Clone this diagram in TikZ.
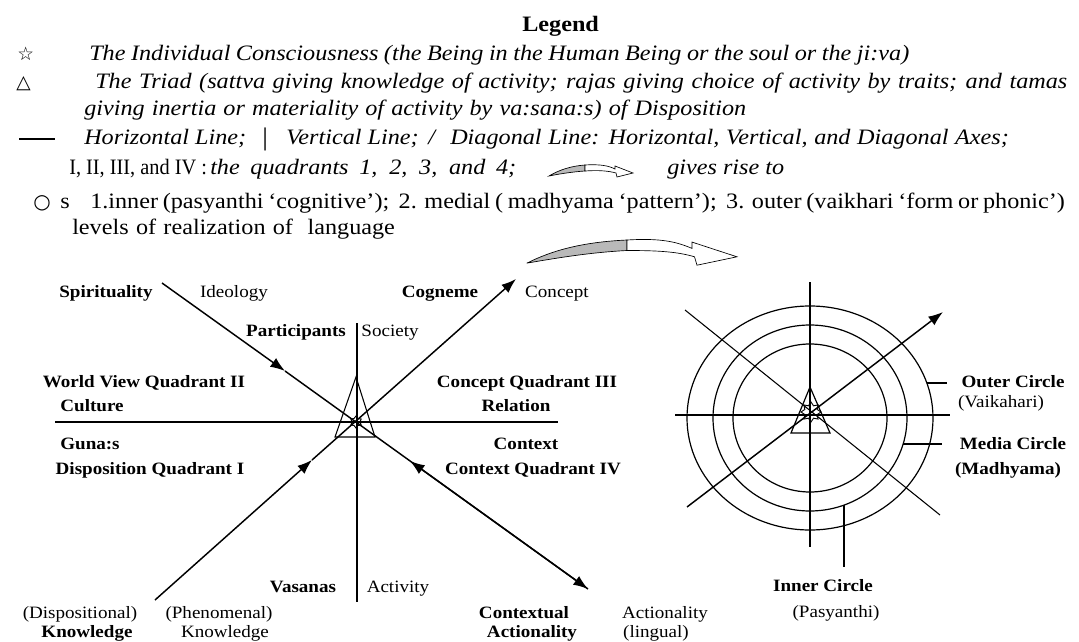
\documentclass[tikz,border=0pt]{standalone}
\usepackage{fontspec}
\usepackage{graphicx}
\setmainfont{Liberation Serif}[FakeStretch=1.1]
\newfontfamily\symfont{DejaVu Sans}
\usetikzlibrary{arrows.meta,shapes.geometric}
\newcommand{\legfont}{\fontsize{16.5pt}{19pt}\selectfont}
\newcommand{\legifont}{\fontsize{16.5pt}{19pt}\selectfont}
\newcommand{\labfont}{\fontsize{13pt}{15pt}\selectfont}
\begin{document}
\begin{tikzpicture}[x=0.75pt,y=-0.75pt,
 leg/.style={anchor=base west,inner sep=0pt,font=\legfont},
 legi/.style={anchor=base west,inner sep=0pt,font=\legifont\itshape},
 legb/.style={anchor=base west,inner sep=0pt,font=\legfont\bfseries},
 sym/.style={anchor=base west,inner sep=0pt,font=\symfont\fontsize{14pt}{16pt}\selectfont},
 lab/.style={anchor=base,inner sep=0pt,font=\labfont},
 labb/.style={anchor=base,inner sep=0pt,font=\labfont\bfseries},
 axis/.style={line width=0.8pt},
 ln/.style={line width=1.1pt},
 tip/.style={-{Latex[length=11pt,width=8pt]}},
 ring/.style={line width=0.9pt},
 starbox/.style={draw,star,inner sep=0pt,line width=0.7pt},
 ribbon/.style={line width=0.5pt}
]
\fill[white] (0,0) rectangle (1079,642);
\useasboundingbox (0,0) rectangle (1079,642);

% ---------------- Legend ----------------
\node[legb] (title) at (522,32) {Legend};
\node[sym] (s1) at (17,61) {☆};
\node[legi] (t1) at (89,61) {\makebox[615pt][s]{The Individual Consciousness (the Being in the Human Being or the soul or the ji:va)}};
\node[sym] (s2) at (16,89) {△};
\node[legi] (t2) at (95,89) {\makebox[729pt][s]{The Triad (sattva giving knowledge of activity; rajas giving choice of activity by traits; and tamas}};
\node[legi] (t3) at (84,116) {\makebox[496.5pt][s]{giving inertia or materiality of activity by va:sana:s) of Disposition}};
\coordinate (h1) at (19,139);
\coordinate (h2) at (55,139);
\draw[line width=0.8pt] (h1) -- (h2);
\node[legi] (t4a) at (84,145) {Horizontal Line;};
\node[leg,font=\fontsize{19pt}{21pt}\selectfont] (t4b) at (262,146) {|};
\node[legi] (t4c) at (286,145) {Vertical Line;};
\node[legi] (t4d) at (428,145) {/};
\node[legi] (t4e) at (450,145) {\makebox[419pt][s]{Diagonal Line: Horizontal, Vertical, and Diagonal Axes;}};
\node[leg] (t5a) at (69,174) {\scalebox{0.84}[1]{I, II, III, and IV :}};
\node[legi] (t5b) at (210,174) {\makebox[229.5pt][s]{the quadrants 1, 2, 3, and 4;}};
\begin{scope}[shift={(549,165)}]
 \filldraw[ribbon,fill=gray!55] (0,11) .. controls (10,5) and (22,1) .. (36,0) -- (36,6) .. controls (22,7) and (10,9) .. cycle;
 \filldraw[ribbon,fill=white] (36,0) .. controls (52,-1) and (60,1) .. (66,4) -- (66,1) -- (84,8) -- (68,12) -- (67,8) .. controls (60,6) and (50,5) .. (36,6) -- cycle;
\end{scope}
\node[legi] (t5c) at (667,174) {gives rise to};
\node[sym,font=\symfont\fontsize{15pt}{17pt}\selectfont] (s3) at (33,209) {○};
\node[leg] (t6a) at (60,209) {s};
\node[leg] (t6b) at (90,209) {\makebox[731pt][s]{1.inner (pasyanthi ‘cognitive’);\ \ 2. medial ( madhyama ‘pattern’);\ \ 3. outer (vaikhari ‘form or phonic’)}};
\node[leg] (t7) at (72,234) {\makebox[242pt][s]{levels of realization of\ \ language}};

% ---------------- gives rise to (diagram) ----------------
\begin{scope}[shift={(527,240)},xscale=2.5,yscale=2.1]
 \filldraw[ribbon,fill=gray!55] (0,11) .. controls (10,5) and (22,1) .. (40,0) -- (40,5) .. controls (24,6) and (10,9) .. cycle;
 \filldraw[ribbon,fill=white] (40,0) .. controls (54,-1) and (60,1) .. (66,4) -- (66,1) -- (84,8) -- (68,12) -- (67,8) .. controls (60,5.5) and (52,5) .. (40,5) -- cycle;
\end{scope}

% ---------------- Left diagram ----------------
\coordinate (cL) at (356,422);
\coordinate (hL1) at (55,422);
\coordinate (hL2) at (558,422);
\coordinate (vL1) at (357,323);
\coordinate (vL2) at (357,602);
\draw[axis] (hL1) -- (hL2);
\draw[axis] (vL1) -- (vL2);

\coordinate (tL1) at (356,377);
\coordinate (tL2) at (335,437);
\coordinate (tL3) at (375,437);
\draw[line width=0.8pt] (tL1) -- (tL2) -- (tL3) -- cycle;
\node[starbox,star points=6,minimum size=9pt] (starL) at (cL) {};

\coordinate (sA) at (162,283);
\coordinate (mA1) at (285,371);
\coordinate (mA2) at (410,461);
\coordinate (eA) at (588,589);
\draw[ln,tip] (sA) -- (mA1);
\draw[ln,tip] (mA1) -- (eA);
\draw[ln,tip] (eA) -- (mA2);

\coordinate (sB) at (155,600);
\coordinate (mB) at (312,460);
\coordinate (eB) at (516,279);
\draw[ln,tip] (sB) -- (mB);
\draw[ln,tip] (mB) -- (eB);

\node[labb] (spi) at (106,297) {Spirituality};
\node[lab] (ideo) at (234,297) {Ideology};
\node[labb] (cog) at (440,297) {Cogneme};
\node[lab] (conc) at (557,297) {Concept};
\node[labb] (part) at (296,336) {Participants};
\node[lab] (soc) at (390,336) {Society};
\node[labb] (wv) at (144,387) {World View Quadrant II};
\node[labb] (cul) at (92,411) {Culture};
\node[labb] (cq) at (527,387) {Concept Quadrant III};
\node[labb] (rel) at (516,411) {Relation};
\node[labb] (gun) at (90,449) {Guna:s};
\node[labb] (dq) at (150,474) {Disposition Quadrant I};
\node[labb] (ctx) at (526,449) {Context};
\node[labb] (cxq) at (533,474) {Context Quadrant IV};
\node[labb] (vas) at (303,592) {Vasanas};
\node[lab] (act) at (398,592) {Activity};
\node[lab] (disp) at (80,618) {(Dispositional)};
\node[labb] (kn1) at (87,637) {Knowledge};
\node[lab] (phen) at (219,618) {(Phenomenal)};
\node[lab] (kn2) at (225,637) {Knowledge};
\node[labb] (ctl) at (524,618) {Contextual};
\node[labb] (acn1) at (532,637) {Actionality};
\node[lab] (acn2) at (665,618) {Actionality};
\node[lab] (ling) at (656,637) {(lingual)};

% ---------------- Right diagram ----------------
\coordinate (cR) at (810,418);
\draw[ring] (cR) ellipse [x radius=123, y radius=112];
\draw[ring] (cR) ellipse [x radius=97, y radius=93];
\draw[ring] (cR) ellipse [x radius=77, y radius=74];
\coordinate (vR1) at (810,282);
\coordinate (vR2) at (810,547);
\coordinate (hR1) at (675,415);
\coordinate (hR2) at (950,415);
\coordinate (dR1) at (685,310);
\coordinate (dR2) at (940,515);
\coordinate (aR1) at (687,507);
\coordinate (aR2) at (943,312);
\draw[axis] (vR1) -- (vR2);
\draw[axis] (hR1) -- (hR2);
\draw[axis] (dR1) -- (dR2);
\draw[ln,tip] (aR1) -- (aR2);
\coordinate (tR1) at (810,387);
\coordinate (tR2) at (791,433);
\coordinate (tR3) at (830,433);
\draw[line width=0.9pt] (tR1) -- (tR2) -- (tR3) -- cycle;
\node[starbox,star points=8,minimum size=15pt] (starR) at (811,412) {};

\coordinate (lo1) at (927,383);
\coordinate (lo2) at (947,383);
\coordinate (lm1) at (903,444);
\coordinate (lm2) at (942,444);
\coordinate (li1) at (844,505);
\coordinate (li2) at (844,567);
\draw[axis] (lo1) -- (lo2);
\draw[axis] (lm1) -- (lm2);
\draw[axis] (li1) -- (li2);

\node[labb] (outc) at (1013,387) {Outer Circle};
\node[lab] (vai) at (1001,407) {(Vaikahari)};
\node[labb] (medc) at (1013,449) {Media Circle};
\node[labb] (mad) at (1008,474) {(Madhyama)};
\node[labb] (innc) at (823,591) {Inner Circle};
\node[lab] (pas) at (836,617) {(Pasyanthi)};
\end{tikzpicture}
\end{document}
